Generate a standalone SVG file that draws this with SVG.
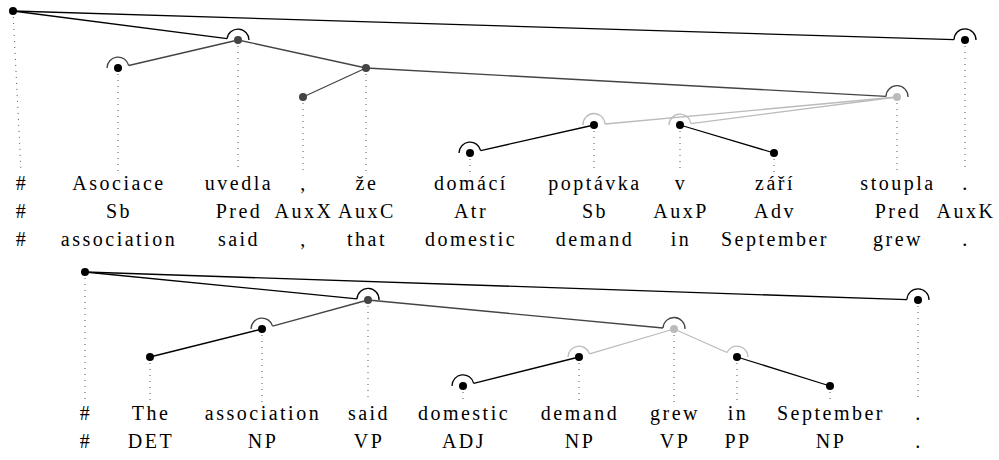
<svg xmlns="http://www.w3.org/2000/svg" width="999" height="460" viewBox="0 0 999 460">
<style>
text{font-family:Liberation Serif,Tinos,Noto Serif,Nimbus Roman,FreeSerif,DejaVu Serif,Times,serif;font-size:20px;letter-spacing:2.5px;text-anchor:middle;fill:#000}
.dot{stroke:#555;stroke-width:1;stroke-dasharray:1 5;fill:none}
.e{fill:none;stroke-width:1.3}
.k{stroke:#000}
.d{stroke:#444}
.l{stroke:#bbb}
.nk{fill:#000}
.nd{fill:#444}
.nl{fill:#bbb}
.arc{fill:none;stroke-width:1.3}
</style>
<rect width="999" height="460" fill="#fff"/>
<g id="connectors">
<path class="e k" d="M13,11 L227.1,38.6"/>
<path class="e k" d="M13,11 L954,39.7"/>
<path class="e d" d="M238,40 L128.7,65.5"/>
<path class="e d" d="M238,40 L366,68"/>
<path class="e d" d="M366,68 L303,97"/>
<path class="e d" d="M366,68 L886,96.4"/>
<path class="e l" d="M897,97 L605,124"/>
<path class="e l" d="M897,97 L690.9,123.6"/>
<path class="e k" d="M594,125 L480.7,150.6"/>
<path class="e k" d="M680,125 L774,153"/>
<path class="e k" d="M85,272 L357,298.9"/>
<path class="e k" d="M85,272 L907,299.6"/>
<path class="e d" d="M368,300 L272.6,326.1"/>
<path class="e d" d="M368,300 L663,328"/>
<path class="e k" d="M262,329 L150,357"/>
<path class="e l" d="M674,329 L589.5,353.9"/>
<path class="e l" d="M674,329 L727,352.5"/>
<path class="e k" d="M579,357 L473.7,383.3"/>
<path class="e k" d="M737,357 L830,386"/>
</g>
<g id="t1-root">
<line class="dot" x1="13" y1="11" x2="21" y2="172"/>
<circle class="nk" cx="13" cy="11" r="4"/>
<text x="22" y="190">#</text><text x="22" y="218">#</text><text x="22" y="246">#</text>
</g>
<g id="t1-asociace">
<line class="dot" x1="118" y1="68" x2="118" y2="172"/>
<path class="arc d" d="M107,68 A11,11 0 0 1 128.7,65.5"/>
<circle class="nk" cx="118" cy="68" r="4"/>
<text x="119" y="190">Asociace</text><text x="119" y="218">Sb</text><text x="119" y="246">association</text>
</g>
<g id="t1-uvedla">
<line class="dot" x1="238" y1="40" x2="238" y2="172"/>
<path class="arc k" d="M227.1,38.6 A11,11 0 0 1 249,40"/>
<circle class="nd" cx="238" cy="40" r="4"/>
<text x="239" y="190">uvedla</text><text x="239" y="218">Pred</text><text x="239" y="246">said</text>
</g>
<g id="t1-comma">
<line class="dot" x1="303" y1="97" x2="303" y2="172"/>
<circle class="nd" cx="303" cy="97" r="4"/>
<text x="304" y="190">,</text><text x="304" y="218">AuxX</text><text x="304" y="246">,</text>
</g>
<g id="t1-ze">
<line class="dot" x1="366" y1="68" x2="366" y2="172"/>
<circle class="nd" cx="366" cy="68" r="4"/>
<text x="367" y="190">že</text><text x="367" y="218">AuxC</text><text x="367" y="246">that</text>
</g>
<g id="t1-domaci">
<line class="dot" x1="470" y1="153" x2="470" y2="172"/>
<path class="arc k" d="M459,153 A11,11 0 0 1 480.7,150.6"/>
<circle class="nk" cx="470" cy="153" r="4"/>
<text x="471" y="190">domácí</text><text x="471" y="218">Atr</text><text x="471" y="246">domestic</text>
</g>
<g id="t1-poptavka">
<line class="dot" x1="594" y1="125" x2="594" y2="172"/>
<path class="arc l" d="M583,125 A11,11 0 0 1 605,124"/>
<circle class="nk" cx="594" cy="125" r="4"/>
<text x="595" y="190">poptávka</text><text x="595" y="218">Sb</text><text x="595" y="246">demand</text>
</g>
<g id="t1-v">
<line class="dot" x1="680" y1="125" x2="680" y2="172"/>
<path class="arc l" d="M669,125 A11,11 0 0 1 690.9,123.6"/>
<circle class="nk" cx="680" cy="125" r="4"/>
<text x="681" y="190">v</text><text x="681" y="218">AuxP</text><text x="681" y="246">in</text>
</g>
<g id="t1-zari">
<line class="dot" x1="774" y1="153" x2="774" y2="172"/>
<circle class="nk" cx="774" cy="153" r="4"/>
<text x="775" y="190">září</text><text x="775" y="218">Adv</text><text x="775" y="246">September</text>
</g>
<g id="t1-stoupla">
<line class="dot" x1="897" y1="97" x2="897" y2="172"/>
<path class="arc d" d="M886,96.4 A11,11 0 0 1 908,97"/>
<circle class="nl" cx="897" cy="97" r="4"/>
<text x="898" y="190">stoupla</text><text x="898" y="218">Pred</text><text x="898" y="246">grew</text>
</g>
<g id="t1-period">
<line class="dot" x1="965" y1="40" x2="965" y2="172"/>
<path class="arc k" d="M954,39.7 A11,11 0 0 1 976,40"/>
<circle class="nk" cx="965" cy="40" r="4"/>
<text x="966" y="190">.</text><text x="966" y="218">AuxK</text><text x="966" y="246">.</text>
</g>
<g id="t2-root">
<line class="dot" x1="85" y1="272" x2="85" y2="402"/>
<circle class="nk" cx="85" cy="272" r="4"/>
<text x="86" y="420">#</text><text x="86" y="448">#</text>
</g>
<g id="t2-the">
<line class="dot" x1="150" y1="357" x2="150" y2="402"/>
<circle class="nk" cx="150" cy="357" r="4"/>
<text x="151" y="420">The</text><text x="151" y="448">DET</text>
</g>
<g id="t2-association">
<line class="dot" x1="262" y1="329" x2="262" y2="402"/>
<path class="arc d" d="M251,329 A11,11 0 0 1 272.6,326.1"/>
<circle class="nk" cx="262" cy="329" r="4"/>
<text x="263" y="420">association</text><text x="263" y="448">NP</text>
</g>
<g id="t2-said">
<line class="dot" x1="368" y1="300" x2="368" y2="402"/>
<path class="arc k" d="M357,298.9 A11,11 0 0 1 379,300"/>
<circle class="nd" cx="368" cy="300" r="4"/>
<text x="369" y="420">said</text><text x="369" y="448">VP</text>
</g>
<g id="t2-domestic">
<line class="dot" x1="463" y1="386" x2="463" y2="402"/>
<path class="arc k" d="M452,386 A11,11 0 0 1 473.7,383.3"/>
<circle class="nk" cx="463" cy="386" r="4"/>
<text x="464" y="420">domestic</text><text x="464" y="448">ADJ</text>
</g>
<g id="t2-demand">
<line class="dot" x1="579" y1="357" x2="579" y2="402"/>
<path class="arc l" d="M568,357 A11,11 0 0 1 589.5,353.9"/>
<circle class="nk" cx="579" cy="357" r="4"/>
<text x="580" y="420">demand</text><text x="580" y="448">NP</text>
</g>
<g id="t2-grew">
<line class="dot" x1="674" y1="329" x2="674" y2="402"/>
<path class="arc d" d="M663,328 A11,11 0 0 1 685,329"/>
<circle class="nl" cx="674" cy="329" r="4"/>
<text x="675" y="420">grew</text><text x="675" y="448">VP</text>
</g>
<g id="t2-in">
<line class="dot" x1="737" y1="357" x2="737" y2="402"/>
<path class="arc l" d="M727,352.5 A11,11 0 0 1 748,357"/>
<circle class="nk" cx="737" cy="357" r="4"/>
<text x="738" y="420">in</text><text x="738" y="448">PP</text>
</g>
<g id="t2-september">
<line class="dot" x1="830" y1="386" x2="830" y2="402"/>
<circle class="nk" cx="830" cy="386" r="4"/>
<text x="831" y="420">September</text><text x="831" y="448">NP</text>
</g>
<g id="t2-period">
<line class="dot" x1="918" y1="300" x2="918" y2="402"/>
<path class="arc k" d="M907,299.6 A11,11 0 0 1 929,300"/>
<circle class="nk" cx="918" cy="300" r="4"/>
<text x="919" y="420">.</text><text x="919" y="448">.</text>
</g>
</svg>
